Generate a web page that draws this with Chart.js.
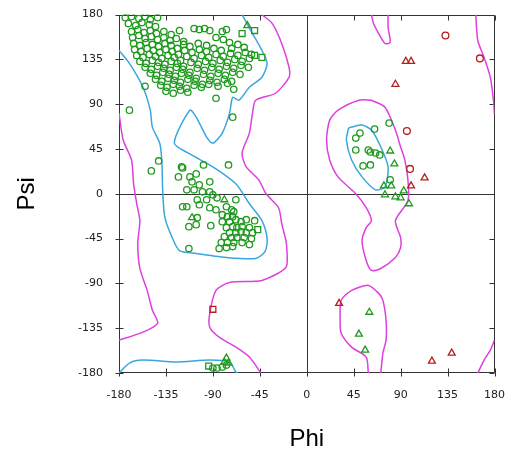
<!DOCTYPE html>
<html>
<head>
<meta charset="utf-8">
<script src="https://cdn.jsdelivr.net/npm/chart.js@4.4.1/dist/chart.umd.min.js"></script>
<style>
  html, body { margin: 0; padding: 0; background: #fff; }
  #wrap { width: 513px; height: 450px; }
</style>
</head>
<body>
<div id="wrap"><canvas id="chart" width="513" height="450"></canvas></div>
<script>
// Axis ticks (degrees)
const phiTicks = [-180, -135, -90, -45, 0, 45, 90, 135, 180];
const psiTicks = [-180, -135, -90, -45, 0, 45, 90, 135, 180];

// Residues in favoured / allowed regions: [phi, psi]
const generalPts = [
  // beta region
  [-174,177],[-168,178],[-161,176],[-155,178],[-150,175],[-143,177],
  [-171,171],[-164,169],[-158,172],[-151,170],[-145,168],
  [-168,163],[-162,165],[-156,162],[-150,164],[-144,161],[-137,163],[-130,160],[-122,164],[-108,166],[-103,165],[-98,166],[-93,164],[-81,163],[-77,165],
  [-167,157],[-161,159],[-155,156],[-149,158],[-143,155],[-137,157],[-131,154],[-125,156],[-118,153],[-87,157],[-80,155],
  [-166,151],[-160,149],[-154,152],[-148,150],[-142,148],[-136,151],[-130,149],[-124,146],[-118,150],[-112,148],[-104,151],[-96,149],[-74,152],[-66,150],
  [-165,145],[-159,143],[-153,146],[-147,144],[-141,142],[-135,145],[-129,143],[-123,140],[-117,144],[-110,142],[-103,145],[-96,143],[-89,146],[-82,144],[-72,146],[-60,147],
  [-163,139],[-157,137],[-151,140],[-145,138],[-139,136],[-133,139],[-127,137],[-121,134],[-115,138],[-108,136],[-101,139],[-94,137],[-87,140],[-80,138],[-73,141],[-66,139],[-59,142],[-53,140],
  [-160,133],[-154,131],[-148,134],[-142,132],[-136,130],[-130,133],[-124,131],[-118,128],[-111,132],[-104,130],[-97,133],[-90,131],[-83,134],[-76,132],[-69,135],[-62,133],[-55,136],
  [-155,127],[-149,125],[-143,128],[-137,126],[-131,124],[-125,127],[-119,125],[-112,122],[-105,126],[-98,124],[-91,127],[-84,125],[-77,128],[-70,126],[-63,129],[-56,127],
  [-150,121],[-144,119],[-138,122],[-132,120],[-126,118],[-120,121],[-113,119],[-106,116],[-99,120],[-92,118],[-85,121],[-78,119],[-71,122],[-64,120],
  [-145,115],[-139,113],[-133,116],[-127,114],[-121,112],[-114,115],[-107,113],[-100,110],[-93,114],[-86,112],[-79,115],[-72,113],
  [-140,109],[-134,107],[-128,110],[-122,108],[-115,106],[-108,109],[-101,107],[-94,110],[-85,108],[-76,111],
  [-135,103],[-128,101],[-121,104],[-114,102],
  [-155,108],[-170,84],[-87,96],[-70,105],[-71,77],
  // alpha region
  [-142,33],[-149,23],[-120,27],[-119,26],[-99,29],[-75,29],
  [-123,17],[-112,17],[-106,20],[-110,12],[-103,9],[-93,12],
  [-115,4],[-108,4],[-100,2],[-93,2],[-90,-1],
  [-105,-6],[-96,-6],[-86,-4],[-68,-6],
  [-119,-13],[-115,-13],[-103,-11],[-93,-14],[-87,-16],[-77,-13],[-72,-16],[-70,-18],
  [-105,-24],[-81,-21],[-76,-23],[-71,-23],
  [-113,-33],[-106,-31],[-92,-32],[-81,-28],[-74,-28],[-68,-26],[-63,-28],[-58,-26],[-50,-27],
  [-77,-34],[-71,-33],[-67,-34],[-62,-33],[-55,-34],
  [-74,-39],[-68,-39],[-63,-38],[-58,-39],[-52,-39],
  [-79,-43],[-72,-44],[-67,-44],[-60,-44],[-53,-45],
  [-82,-49],[-76,-49],[-70,-49],[-62,-49],[-55,-51],
  [-84,-55],[-77,-54],[-71,-53],[-113,-55],
  // bottom edge
  [-90,-175],[-86,-175],[-81,-174],[-77,-172],
  // left-handed region
  [79,71],[65,65],[51,61],[47,56],[47,44],[59,44],[61,42],[66,41],[70,39],[54,28],[61,29],[80,14]
];
const glyPts = [
  [-57,169],[-79,-6],[-110,-24],
  [-77,-165],[-75,-170],[-79,-169],
  [80,43],[84,30],[74,8],[81,8],[75,-1],[85,-3],[90,-4],[93,3],[98,-10],
  [60,-119],[50,-141],[56,-157]
];
const proPts = [
  [-62,161],[-50,164],[-50,139],[-43,137],[-47,-36],[-94,-173]
];

// Outliers
const outCircles = [[133,159],[166,136],[96,63],[99,25]];
const outTriangles = [[95,133],[100,133],[85,110],[113,16],[100,8],[31,-110],[120,-168],[139,-160]];
const outSquares = [[-90,-116]];

// Favoured region contours (cyan)
const favBeta = [
  [-62,180],[-52,161],[-43,144],[-38,131],[-43,117],[-55,107],[-65,94],[-71,97],[-74,81],[-81,61],
  [-90,51],[-96,57],[-106,77],[-112,84],[-127,51],[-112,40],[-90,27],[-68,10],[-55,-10],[-43,-27],
  [-38,-45],[-40,-58],[-49,-65],[-77,-64],[-106,-60],[-122,-57],[-129,-44],[-136,-24],[-138,0],
  [-139,34],[-141,51],[-148,67],[-150,84],[-157,107],[-170,131],[-180,144]
];
const favBottom = [[-180,-180],[-170,-170],[-157,-167],[-125,-169],[-93,-167],[-74,-169],[-68,-179],[-66,-180]];
const favLeftHand = [[40,66],[38,54],[43,34],[53,17],[66,4],[75,7],[78,27],[71,47],[62,64],[53,69],[43,67],[40,66]];

// Allowed region contours (magenta)
const allowLeft = [
  [-180,81],[-176,54],[-168,34],[-166,10],[-163,-10],[-160,-27],[-162,-50],[-160,-75],[-153,-97],
  [-148,-117],[-143,-130],[-157,-139],[-180,-147]
];
const allowMid = [
  [-43,180],[-33,171],[-24,151],[-17,127],[-17,117],[-30,101],[-49,94],[-52,81],[-55,61],[-62,41],
  [-58,27],[-46,14],[-39,0],[-27,-14],[-24,-30],[-20,-47],[-19,-57],[-20,-74],[-43,-87],[-74,-89],
  [-87,-97],[-93,-120],[-93,-134],[-84,-144],[-68,-154],[-55,-164],[-44,-180]
];
const allowTongue = [[62,180],[64,171],[69,161],[75,151],[80,152],[78,167],[78,180]];
const allowTopRight = [[162,180],[164,154],[170,137],[176,117],[179,94],[180,80]];
const allowLeftHand = [
  [62,94],[50,94],[30,84],[22,74],[19,54],[22,34],[30,17],[47,0],[57,-14],[62,-27],[57,-34],
  [53,-47],[57,-67],[62,-77],[71,-75],[85,-64],[90,-54],[90,-44],[85,-27],[97,-7],[97,14],
  [94,34],[90,47],[85,64],[75,87],[62,94]
];
const allowLowRight = [
  [59,-180],[57,-164],[43,-154],[33,-140],[32,-127],[33,-107],[43,-97],[59,-92],[69,-100],
  [73,-107],[76,-127],[76,-147],[73,-160],[71,-180]
];
const allowCorner = [[164,-180],[170,-167],[176,-157],[180,-147]];

const GREEN = '#1f9a1f';
const RED = '#b51f1f';
const CYAN = '#3aa6de';
const MAGENTA = '#de3fde';

const toXY = arr => arr.map(([x, y]) => ({ x, y }));

function pts(data, style, color, r) {
  return {
    data: toXY(data), pointStyle: style, pointRadius: r, borderColor: color,
    backgroundColor: 'rgba(0,0,0,0)', pointBorderWidth: 1.3, showLine: false, order: 0,
  };
}
function contour(data, color) {
  return {
    data: toXY(data), showLine: true, pointRadius: 0, borderColor: color,
    borderWidth: 1.5, tension: 0.25, fill: false, order: 1,
  };
}

// Frame, zero lines and tick marks
const frame = {
  id: 'frame',
  beforeDatasetsDraw(c) {
    const { ctx, chartArea: a, scales: { x, y } } = c;
    ctx.save();
    ctx.strokeStyle = '#333';
    ctx.lineWidth = 1;
    const L = Math.round(a.left) + 0.5, R = Math.round(a.right) - 0.5;
    const T = Math.round(a.top) + 0.5, B = Math.round(a.bottom) - 0.5;
    ctx.beginPath();
    ctx.rect(L, T, R - L, B - T);
    const x0 = Math.round(x.getPixelForValue(0)) + 0.5;
    const y0 = Math.round(y.getPixelForValue(0)) + 0.5;
    ctx.moveTo(x0, T); ctx.lineTo(x0, B);
    ctx.moveTo(L, y0); ctx.lineTo(R, y0);
    x.ticks.forEach(t => {
      const px = Math.round(x.getPixelForValue(t.value)) + 0.5;
      ctx.moveTo(px, B - 4); ctx.lineTo(px, B + 4);
      ctx.moveTo(px, T); ctx.lineTo(px, T + 5);
    });
    y.ticks.forEach(t => {
      const py = Math.round(y.getPixelForValue(t.value)) + 0.5;
      ctx.moveTo(L - 4, py); ctx.lineTo(L + 4, py);
      ctx.moveTo(R - 5, py); ctx.lineTo(R, py);
    });
    ctx.stroke();
    ctx.restore();
  }
};

const tickFont = { family: 'DejaVu Sans', size: 11 };

new Chart(document.getElementById('chart'), {
  type: 'scatter',
  data: {
    datasets: [
      pts(generalPts, 'circle', GREEN, 3.2),
      pts(glyPts, 'triangle', GREEN, 4),
      pts(proPts, 'rect', GREEN, 4.2),
      pts(outCircles, 'circle', RED, 3.4),
      pts(outTriangles, 'triangle', RED, 4),
      pts(outSquares, 'rect', RED, 4.2),
      contour(favBeta, CYAN),
      contour(favBottom, CYAN),
      contour(favLeftHand, CYAN),
      contour(allowLeft, MAGENTA),
      contour(allowMid, MAGENTA),
      contour(allowTongue, MAGENTA),
      contour(allowTopRight, MAGENTA),
      contour(allowLeftHand, MAGENTA),
      contour(allowLowRight, MAGENTA),
      contour(allowCorner, MAGENTA),
    ],
  },
  options: {
    responsive: false,
    animation: false,
    layout: { padding: { left: 0, top: 14, right: 16, bottom: -4 } },
    plugins: { legend: { display: false }, tooltip: { enabled: false } },
    scales: {
      x: {
        min: -180, max: 180,
        afterBuildTicks: s => { s.ticks = phiTicks.map(v => ({ value: v })); },
        afterFit: s => { s.height = 81; },
        grid: { display: false },
        border: { display: false },
        ticks: { font: tickFont, color: '#222', padding: 8, maxRotation: 0, autoSkip: false },
        title: { display: true, text: 'Phi', color: '#000', font: { family: 'Liberation Sans', size: 24 }, padding: 0 },
      },
      y: {
        min: -180, max: 180,
        afterBuildTicks: s => { s.ticks = psiTicks.map(v => ({ value: v })); },
        afterFit: s => { s.width = 119; },
        grid: { display: false },
        border: { display: false },
        ticks: { font: tickFont, color: '#222', padding: 8, autoSkip: false },
        title: { display: true, text: 'Psi', color: '#000', font: { family: 'Liberation Sans', size: 24 }, padding: { top: 13 } },
      },
    },
  },
  plugins: [frame],
});
</script>
</body>
</html>
